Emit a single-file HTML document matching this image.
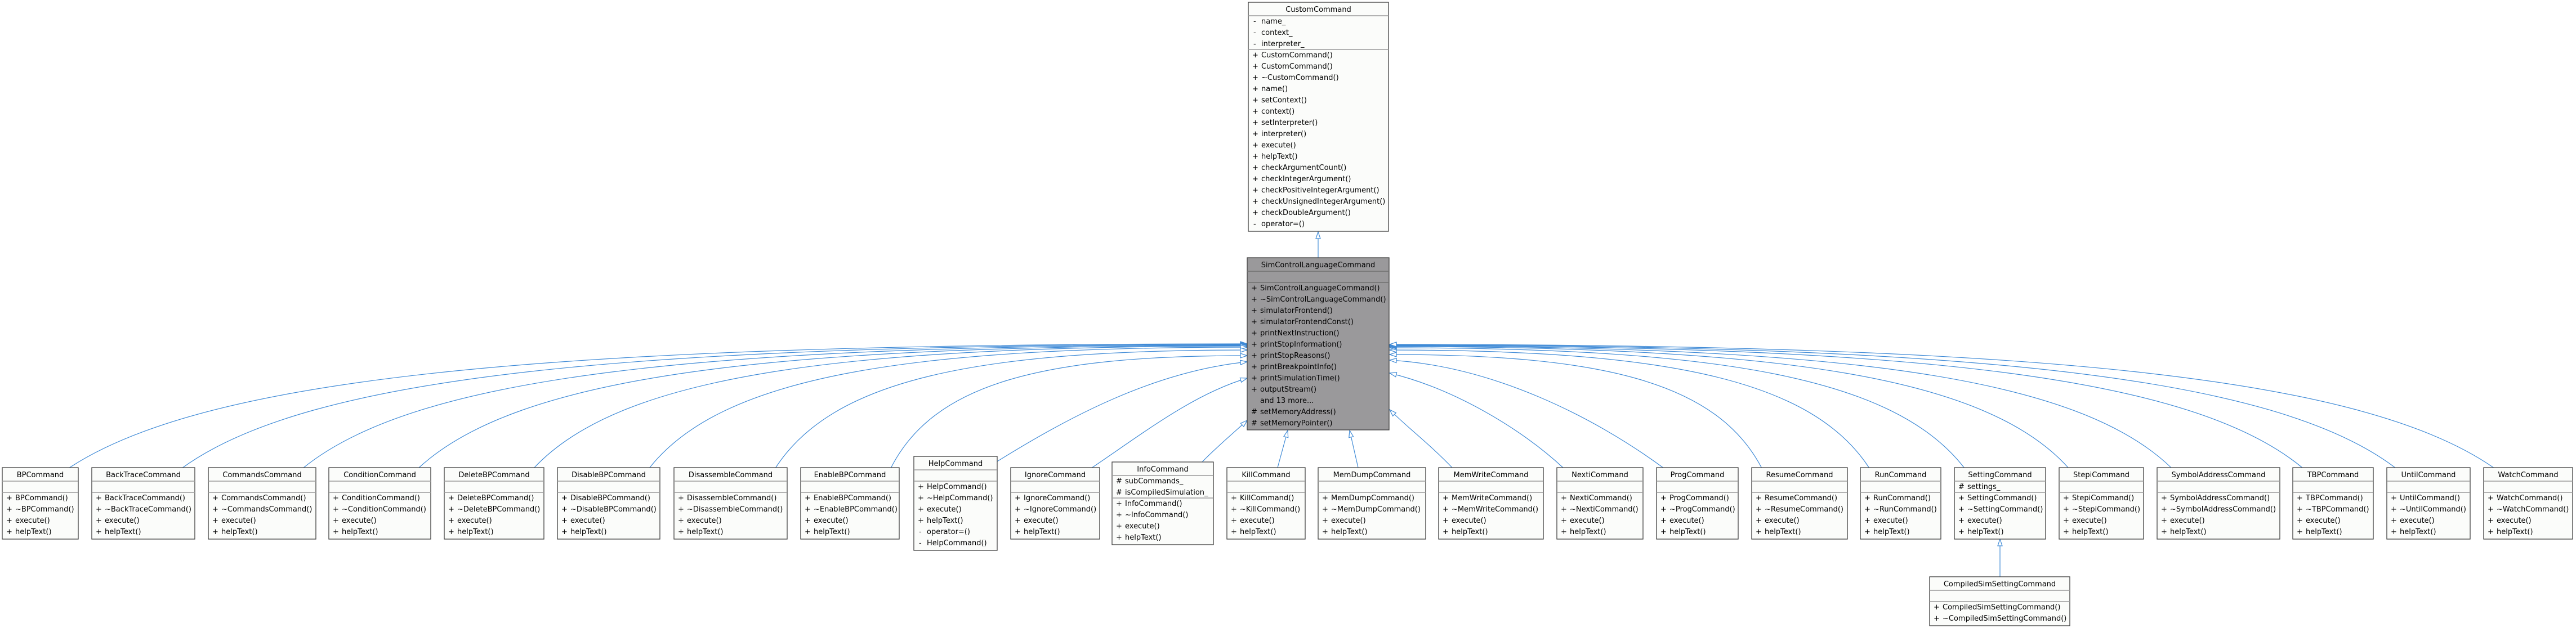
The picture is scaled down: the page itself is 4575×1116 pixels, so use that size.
<!DOCTYPE html>
<html><head><meta charset="utf-8"><style>
html,body{margin:0;padding:0;background:#fff;}
svg{display:block;}
text{font-family:"DejaVu Sans","Liberation Sans",sans-serif;font-size:13px;fill:#000;}
.b{fill:#fbfcfa;stroke:#404040;stroke-width:1.3;}
.g{fill:#9a999b;stroke:#404040;stroke-width:1.3;}
.d{stroke:#9a9a9a;stroke-width:1.6;}
.e{fill:none;stroke:#3f8ad6;stroke-width:1.2;}
.h{text-anchor:middle;}
</style></head><body>
<svg width="4575" height="1116" viewBox="0 0 4575 1116" xmlns="http://www.w3.org/2000/svg">
<defs>
<marker id="a" markerUnits="userSpaceOnUse" markerWidth="16" markerHeight="12" refX="13" refY="5" orient="auto">
<path d="M1,1 L13,5 L1,9 Z" fill="#fff" stroke="#3f8ad6" stroke-width="1.2"/>
</marker>
</defs>

<!-- edges -->
<g class="e" marker-end="url(#a)">
<path d="M2341,458 L2341,412"/>
<path d="M3552,1025 L3552,958"/>
<!-- left side -->
<path d="M122,832 C373,666 1001,611 2215,611"/>
<path d="M323,832 C550,667 1118,612 2215,612"/>
<path d="M538,832 C739,668 1242,613 2215,613"/>
<path d="M743,832 C920,668 1361,614 2215,614"/>
<path d="M948,832 C1100,669 1480,615 2215,615"/>
<path d="M1153,832 C1280,671 1599,617 2215,617"/>
<path d="M1377,832 C1478,675 1729,622 2215,622"/>
<path d="M1582,832 C1658,682 1848,632 2215,632"/>
<path d="M1771,820 C1900,740 2050,660 2215,643"/>
<path d="M1938,832 C2030,770 2120,700 2215,672"/>
<path d="M2135,821 C2160,795 2190,770 2215,747"/>
<!-- bottom -->
<path d="M2269,831 L2287,765"/>
<path d="M2412,831 L2397,765"/>
<!-- right side -->
<path d="M2580,832 C2540,790 2500,760 2468,728"/>
<path d="M2777,832 C2700,760 2580,690 2468,663"/>
<path d="M2955,832 C2830,740 2650,650 2468,640"/>
<path d="M3129,832 C3050,681 2851,630 2468,630"/>
<path d="M3320,832 C3218,675 2962,622 2468,622"/>
<path d="M3489,832 C3366,672 3060,618 2468,618"/>
<path d="M3674,832 C3529,670 3167,616 2468,616"/>
<path d="M3857,832 C3690,669 3274,615 2468,615"/>
<path d="M4090,832 C3895,669 3409,614 2468,614"/>
<path d="M4255,832 C4041,668 3504,613 2468,613"/>
<path d="M4430,832 C4195,667 3606,612 2468,612"/>
</g>

<!-- CustomCommand -->
<g transform="translate(2217,4)">
<rect class="b" x="0" y="0" width="249" height="407"/>
<line class="d" x1="0" y1="24" x2="249" y2="24"/><line class="d" x1="0" y1="84" x2="249" y2="84"/>
<text class="h" x="124.5" y="17">CustomCommand</text>
<text x="9" y="38">-</text><text x="23" y="38">name_</text>
<text x="9" y="58">-</text><text x="23" y="58">context_</text>
<text x="9" y="78">-</text><text x="23" y="78">interpreter_</text>
<text x="7" y="98">+</text><text x="23" y="98">CustomCommand()</text>
<text x="7" y="118">+</text><text x="23" y="118">CustomCommand()</text>
<text x="7" y="138">+</text><text x="23" y="138">~CustomCommand()</text>
<text x="7" y="158">+</text><text x="23" y="158">name()</text>
<text x="7" y="178">+</text><text x="23" y="178">setContext()</text>
<text x="7" y="198">+</text><text x="23" y="198">context()</text>
<text x="7" y="218">+</text><text x="23" y="218">setInterpreter()</text>
<text x="7" y="238">+</text><text x="23" y="238">interpreter()</text>
<text x="7" y="258">+</text><text x="23" y="258">execute()</text>
<text x="7" y="278">+</text><text x="23" y="278">helpText()</text>
<text x="7" y="298">+</text><text x="23" y="298">checkArgumentCount()</text>
<text x="7" y="318">+</text><text x="23" y="318">checkIntegerArgument()</text>
<text x="7" y="338">+</text><text x="23" y="338">checkPositiveIntegerArgument()</text>
<text x="7" y="358">+</text><text x="23" y="358">checkUnsignedIntegerArgument()</text>
<text x="7" y="378">+</text><text x="23" y="378">checkDoubleArgument()</text>
<text x="9" y="398">-</text><text x="23" y="398">operator=()</text>
</g>

<!-- SimControlLanguageCommand -->
<g transform="translate(2215,458)">
<rect class="g" x="0" y="0" width="252" height="306"/>
<line class="d" x1="0" y1="24" x2="252" y2="24" style="stroke:#707070"/><line class="d" x1="0" y1="44" x2="252" y2="44" style="stroke:#707070"/>
<text class="h" x="126" y="17">SimControlLanguageCommand</text>
<text x="7" y="58">+</text><text x="23" y="58">SimControlLanguageCommand()</text>
<text x="7" y="78">+</text><text x="23" y="78">~SimControlLanguageCommand()</text>
<text x="7" y="98">+</text><text x="23" y="98">simulatorFrontend()</text>
<text x="7" y="118">+</text><text x="23" y="118">simulatorFrontendConst()</text>
<text x="7" y="138">+</text><text x="23" y="138">printNextInstruction()</text>
<text x="7" y="158">+</text><text x="23" y="158">printStopInformation()</text>
<text x="7" y="178">+</text><text x="23" y="178">printStopReasons()</text>
<text x="7" y="198">+</text><text x="23" y="198">printBreakpointInfo()</text>
<text x="7" y="218">+</text><text x="23" y="218">printSimulationTime()</text>
<text x="7" y="238">+</text><text x="23" y="238">outputStream()</text>
<text x="23" y="258">and 13 more...</text>
<text x="7" y="278">#</text><text x="23" y="278">setMemoryAddress()</text>
<text x="7" y="298">#</text><text x="23" y="298">setMemoryPointer()</text>
</g>

<g transform="translate(4,831)"><rect class="b" width="135" height="127"/><line class="d" x1="0" y1="24" x2="135" y2="24"/><line class="d" x1="0" y1="44" x2="135" y2="44"/>
<text class="h" x="67.5" y="17">BPCommand</text>
<text x="7" y="58">+</text><text x="23" y="58">BPCommand()</text><text x="7" y="78">+</text><text x="23" y="78">~BPCommand()</text><text x="7" y="98">+</text><text x="23" y="98">execute()</text><text x="7" y="118">+</text><text x="23" y="118">helpText()</text></g>

<g transform="translate(163,831)"><rect class="b" width="183" height="127"/><line class="d" x1="0" y1="24" x2="183" y2="24"/><line class="d" x1="0" y1="44" x2="183" y2="44"/>
<text class="h" x="91.5" y="17">BackTraceCommand</text>
<text x="7" y="58">+</text><text x="23" y="58">BackTraceCommand()</text><text x="7" y="78">+</text><text x="23" y="78">~BackTraceCommand()</text><text x="7" y="98">+</text><text x="23" y="98">execute()</text><text x="7" y="118">+</text><text x="23" y="118">helpText()</text></g>

<g transform="translate(370,831)"><rect class="b" width="191" height="127"/><line class="d" x1="0" y1="24" x2="191" y2="24"/><line class="d" x1="0" y1="44" x2="191" y2="44"/>
<text class="h" x="95.5" y="17">CommandsCommand</text>
<text x="7" y="58">+</text><text x="23" y="58">CommandsCommand()</text><text x="7" y="78">+</text><text x="23" y="78">~CommandsCommand()</text><text x="7" y="98">+</text><text x="23" y="98">execute()</text><text x="7" y="118">+</text><text x="23" y="118">helpText()</text></g>

<g transform="translate(584,831)"><rect class="b" width="181" height="127"/><line class="d" x1="0" y1="24" x2="181" y2="24"/><line class="d" x1="0" y1="44" x2="181" y2="44"/>
<text class="h" x="90.5" y="17">ConditionCommand</text>
<text x="7" y="58">+</text><text x="23" y="58">ConditionCommand()</text><text x="7" y="78">+</text><text x="23" y="78">~ConditionCommand()</text><text x="7" y="98">+</text><text x="23" y="98">execute()</text><text x="7" y="118">+</text><text x="23" y="118">helpText()</text></g>

<g transform="translate(789,831)"><rect class="b" width="177" height="127"/><line class="d" x1="0" y1="24" x2="177" y2="24"/><line class="d" x1="0" y1="44" x2="177" y2="44"/>
<text class="h" x="88.5" y="17">DeleteBPCommand</text>
<text x="7" y="58">+</text><text x="23" y="58">DeleteBPCommand()</text><text x="7" y="78">+</text><text x="23" y="78">~DeleteBPCommand()</text><text x="7" y="98">+</text><text x="23" y="98">execute()</text><text x="7" y="118">+</text><text x="23" y="118">helpText()</text></g>

<g transform="translate(990,831)"><rect class="b" width="182" height="127"/><line class="d" x1="0" y1="24" x2="182" y2="24"/><line class="d" x1="0" y1="44" x2="182" y2="44"/>
<text class="h" x="91" y="17">DisableBPCommand</text>
<text x="7" y="58">+</text><text x="23" y="58">DisableBPCommand()</text><text x="7" y="78">+</text><text x="23" y="78">~DisableBPCommand()</text><text x="7" y="98">+</text><text x="23" y="98">execute()</text><text x="7" y="118">+</text><text x="23" y="118">helpText()</text></g>

<g transform="translate(1197,831)"><rect class="b" width="201" height="127"/><line class="d" x1="0" y1="24" x2="201" y2="24"/><line class="d" x1="0" y1="44" x2="201" y2="44"/>
<text class="h" x="100.5" y="17">DisassembleCommand</text>
<text x="7" y="58">+</text><text x="23" y="58">DisassembleCommand()</text><text x="7" y="78">+</text><text x="23" y="78">~DisassembleCommand()</text><text x="7" y="98">+</text><text x="23" y="98">execute()</text><text x="7" y="118">+</text><text x="23" y="118">helpText()</text></g>

<g transform="translate(1422,831)"><rect class="b" width="175" height="127"/><line class="d" x1="0" y1="24" x2="175" y2="24"/><line class="d" x1="0" y1="44" x2="175" y2="44"/>
<text class="h" x="87.5" y="17">EnableBPCommand</text>
<text x="7" y="58">+</text><text x="23" y="58">EnableBPCommand()</text><text x="7" y="78">+</text><text x="23" y="78">~EnableBPCommand()</text><text x="7" y="98">+</text><text x="23" y="98">execute()</text><text x="7" y="118">+</text><text x="23" y="118">helpText()</text></g>

<g transform="translate(1623,811)"><rect class="b" width="148" height="167"/><line class="d" x1="0" y1="24" x2="148" y2="24"/><line class="d" x1="0" y1="44" x2="148" y2="44"/>
<text class="h" x="74" y="17">HelpCommand</text>
<text x="7" y="58">+</text><text x="23" y="58">HelpCommand()</text><text x="7" y="78">+</text><text x="23" y="78">~HelpCommand()</text><text x="7" y="98">+</text><text x="23" y="98">execute()</text><text x="7" y="118">+</text><text x="23" y="118">helpText()</text><text x="9" y="138">-</text><text x="23" y="138">operator=()</text><text x="9" y="158">-</text><text x="23" y="158">HelpCommand()</text></g>

<g transform="translate(1795,831)"><rect class="b" width="158" height="127"/><line class="d" x1="0" y1="24" x2="158" y2="24"/><line class="d" x1="0" y1="44" x2="158" y2="44"/>
<text class="h" x="79" y="17">IgnoreCommand</text>
<text x="7" y="58">+</text><text x="23" y="58">IgnoreCommand()</text><text x="7" y="78">+</text><text x="23" y="78">~IgnoreCommand()</text><text x="7" y="98">+</text><text x="23" y="98">execute()</text><text x="7" y="118">+</text><text x="23" y="118">helpText()</text></g>

<g transform="translate(1975,821)"><rect class="b" width="180" height="147"/><line class="d" x1="0" y1="24" x2="180" y2="24"/><line class="d" x1="0" y1="64" x2="180" y2="64"/>
<text class="h" x="90" y="17">InfoCommand</text>
<text x="7" y="38">#</text><text x="23" y="38">subCommands_</text><text x="7" y="58">#</text><text x="23" y="58">isCompiledSimulation_</text>
<text x="7" y="78">+</text><text x="23" y="78">InfoCommand()</text><text x="7" y="98">+</text><text x="23" y="98">~InfoCommand()</text><text x="7" y="118">+</text><text x="23" y="118">execute()</text><text x="7" y="138">+</text><text x="23" y="138">helpText()</text></g>

<g transform="translate(2179,831)"><rect class="b" width="139" height="127"/><line class="d" x1="0" y1="24" x2="139" y2="24"/><line class="d" x1="0" y1="44" x2="139" y2="44"/>
<text class="h" x="69.5" y="17">KillCommand</text>
<text x="7" y="58">+</text><text x="23" y="58">KillCommand()</text><text x="7" y="78">+</text><text x="23" y="78">~KillCommand()</text><text x="7" y="98">+</text><text x="23" y="98">execute()</text><text x="7" y="118">+</text><text x="23" y="118">helpText()</text></g>

<g transform="translate(2341,831)"><rect class="b" width="191" height="127"/><line class="d" x1="0" y1="24" x2="191" y2="24"/><line class="d" x1="0" y1="44" x2="191" y2="44"/>
<text class="h" x="95.5" y="17">MemDumpCommand</text>
<text x="7" y="58">+</text><text x="23" y="58">MemDumpCommand()</text><text x="7" y="78">+</text><text x="23" y="78">~MemDumpCommand()</text><text x="7" y="98">+</text><text x="23" y="98">execute()</text><text x="7" y="118">+</text><text x="23" y="118">helpText()</text></g>

<g transform="translate(2555,831)"><rect class="b" width="186" height="127"/><line class="d" x1="0" y1="24" x2="186" y2="24"/><line class="d" x1="0" y1="44" x2="186" y2="44"/>
<text class="h" x="93" y="17">MemWriteCommand</text>
<text x="7" y="58">+</text><text x="23" y="58">MemWriteCommand()</text><text x="7" y="78">+</text><text x="23" y="78">~MemWriteCommand()</text><text x="7" y="98">+</text><text x="23" y="98">execute()</text><text x="7" y="118">+</text><text x="23" y="118">helpText()</text></g>

<g transform="translate(2765,831)"><rect class="b" width="153" height="127"/><line class="d" x1="0" y1="24" x2="153" y2="24"/><line class="d" x1="0" y1="44" x2="153" y2="44"/>
<text class="h" x="76.5" y="17">NextiCommand</text>
<text x="7" y="58">+</text><text x="23" y="58">NextiCommand()</text><text x="7" y="78">+</text><text x="23" y="78">~NextiCommand()</text><text x="7" y="98">+</text><text x="23" y="98">execute()</text><text x="7" y="118">+</text><text x="23" y="118">helpText()</text></g>

<g transform="translate(2942,831)"><rect class="b" width="145" height="127"/><line class="d" x1="0" y1="24" x2="145" y2="24"/><line class="d" x1="0" y1="44" x2="145" y2="44"/>
<text class="h" x="72.5" y="17">ProgCommand</text>
<text x="7" y="58">+</text><text x="23" y="58">ProgCommand()</text><text x="7" y="78">+</text><text x="23" y="78">~ProgCommand()</text><text x="7" y="98">+</text><text x="23" y="98">execute()</text><text x="7" y="118">+</text><text x="23" y="118">helpText()</text></g>

<g transform="translate(3111,831)"><rect class="b" width="170" height="127"/><line class="d" x1="0" y1="24" x2="170" y2="24"/><line class="d" x1="0" y1="44" x2="170" y2="44"/>
<text class="h" x="85" y="17">ResumeCommand</text>
<text x="7" y="58">+</text><text x="23" y="58">ResumeCommand()</text><text x="7" y="78">+</text><text x="23" y="78">~ResumeCommand()</text><text x="7" y="98">+</text><text x="23" y="98">execute()</text><text x="7" y="118">+</text><text x="23" y="118">helpText()</text></g>

<g transform="translate(3304,831)"><rect class="b" width="143" height="127"/><line class="d" x1="0" y1="24" x2="143" y2="24"/><line class="d" x1="0" y1="44" x2="143" y2="44"/>
<text class="h" x="71.5" y="17">RunCommand</text>
<text x="7" y="58">+</text><text x="23" y="58">RunCommand()</text><text x="7" y="78">+</text><text x="23" y="78">~RunCommand()</text><text x="7" y="98">+</text><text x="23" y="98">execute()</text><text x="7" y="118">+</text><text x="23" y="118">helpText()</text></g>

<g transform="translate(3471,831)"><rect class="b" width="162" height="127"/><line class="d" x1="0" y1="24" x2="162" y2="24"/><line class="d" x1="0" y1="44" x2="162" y2="44"/>
<text class="h" x="81" y="17">SettingCommand</text>
<text x="7" y="38">#</text><text x="23" y="38">settings_</text>
<text x="7" y="58">+</text><text x="23" y="58">SettingCommand()</text><text x="7" y="78">+</text><text x="23" y="78">~SettingCommand()</text><text x="7" y="98">+</text><text x="23" y="98">execute()</text><text x="7" y="118">+</text><text x="23" y="118">helpText()</text></g>

<g transform="translate(3657,831)"><rect class="b" width="150" height="127"/><line class="d" x1="0" y1="24" x2="150" y2="24"/><line class="d" x1="0" y1="44" x2="150" y2="44"/>
<text class="h" x="75" y="17">StepiCommand</text>
<text x="7" y="58">+</text><text x="23" y="58">StepiCommand()</text><text x="7" y="78">+</text><text x="23" y="78">~StepiCommand()</text><text x="7" y="98">+</text><text x="23" y="98">execute()</text><text x="7" y="118">+</text><text x="23" y="118">helpText()</text></g>

<g transform="translate(3831,831)"><rect class="b" width="218" height="127"/><line class="d" x1="0" y1="24" x2="218" y2="24"/><line class="d" x1="0" y1="44" x2="218" y2="44"/>
<text class="h" x="109" y="17">SymbolAddressCommand</text>
<text x="7" y="58">+</text><text x="23" y="58">SymbolAddressCommand()</text><text x="7" y="78">+</text><text x="23" y="78">~SymbolAddressCommand()</text><text x="7" y="98">+</text><text x="23" y="98">execute()</text><text x="7" y="118">+</text><text x="23" y="118">helpText()</text></g>

<g transform="translate(4072,831)"><rect class="b" width="143" height="127"/><line class="d" x1="0" y1="24" x2="143" y2="24"/><line class="d" x1="0" y1="44" x2="143" y2="44"/>
<text class="h" x="71.5" y="17">TBPCommand</text>
<text x="7" y="58">+</text><text x="23" y="58">TBPCommand()</text><text x="7" y="78">+</text><text x="23" y="78">~TBPCommand()</text><text x="7" y="98">+</text><text x="23" y="98">execute()</text><text x="7" y="118">+</text><text x="23" y="118">helpText()</text></g>

<g transform="translate(4239,831)"><rect class="b" width="148" height="127"/><line class="d" x1="0" y1="24" x2="148" y2="24"/><line class="d" x1="0" y1="44" x2="148" y2="44"/>
<text class="h" x="74" y="17">UntilCommand</text>
<text x="7" y="58">+</text><text x="23" y="58">UntilCommand()</text><text x="7" y="78">+</text><text x="23" y="78">~UntilCommand()</text><text x="7" y="98">+</text><text x="23" y="98">execute()</text><text x="7" y="118">+</text><text x="23" y="118">helpText()</text></g>

<g transform="translate(4411,831)"><rect class="b" width="158" height="127"/><line class="d" x1="0" y1="24" x2="158" y2="24"/><line class="d" x1="0" y1="44" x2="158" y2="44"/>
<text class="h" x="79" y="17">WatchCommand</text>
<text x="7" y="58">+</text><text x="23" y="58">WatchCommand()</text><text x="7" y="78">+</text><text x="23" y="78">~WatchCommand()</text><text x="7" y="98">+</text><text x="23" y="98">execute()</text><text x="7" y="118">+</text><text x="23" y="118">helpText()</text></g>

<g transform="translate(3427,1025)"><rect class="b" width="249" height="87"/><line class="d" x1="0" y1="24" x2="249" y2="24"/><line class="d" x1="0" y1="44" x2="249" y2="44"/>
<text class="h" x="124.5" y="17">CompiledSimSettingCommand</text>
<text x="7" y="58">+</text><text x="23" y="58">CompiledSimSettingCommand()</text><text x="7" y="78">+</text><text x="23" y="78">~CompiledSimSettingCommand()</text></g>
</svg>
</body></html>
